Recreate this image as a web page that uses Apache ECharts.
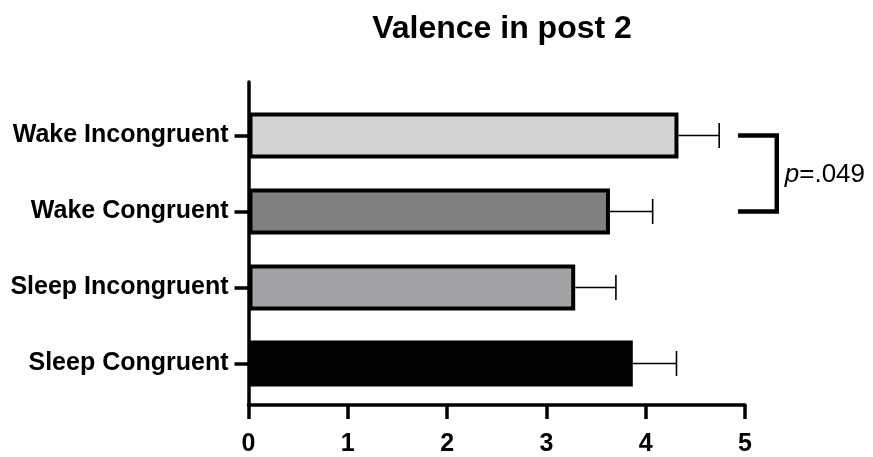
<!DOCTYPE html>
<html>
<head>
<meta charset="utf-8">
<script src="https://cdn.jsdelivr.net/npm/echarts@6/dist/echarts.min.js"></script>
<style>
  html, body { margin: 0; padding: 0; background: #fff; }
  #chart { width: 873px; height: 457px; }
</style>
</head>
<body>
<div id="chart"></div>
<script>
// Groups, listed bottom to top as the category axis draws them
const groups = ['Sleep Congruent', 'Sleep Incongruent', 'Wake Congruent', 'Wake Incongruent'];
const means = [3.87, 3.29, 3.64, 4.33];
const upperErr = [4.31, 3.70, 4.07, 4.74];
const fills = ['#000000', '#a2a2a5', '#808080', '#d3d3d3'];
const xTicks = [0, 1, 2, 3, 4, 5];

// Significance bracket between the two Wake groups
const bracketFrom = 'Wake Incongruent';
const bracketTo = 'Wake Congruent';
const bracketX = [4.93, 5.32];
const pText = '.049';

const FONT = "'Liberation Sans', Arial, Helvetica, sans-serif";

const chart = echarts.init(document.getElementById('chart'), null, { renderer: 'canvas' });

const iFrom = groups.indexOf(bracketFrom);
const iTo = groups.indexOf(bracketTo);

const option = {
  animation: false,
  backgroundColor: '#ffffff',
  title: {
    text: 'Valence in post 2',
    left: 497,
    textAlign: 'center',
    top: 8,
    textStyle: { fontFamily: FONT, fontWeight: 'bold', fontSize: 32, color: '#000' }
  },
  grid: [
    // frame grid: carries the axis lines and the value ticks
    { left: 248.5, right: 128, top: 82, bottom: 44, containLabel: false },
    // bar grid: the four bands
    { left: 248.5, right: 128, top: 97.5, bottom: 55.5, containLabel: false }
  ],
  xAxis: [
    {
      gridIndex: 0,
      type: 'value',
      min: xTicks[0],
      max: xTicks[xTicks.length - 1],
      interval: 1,
      splitLine: { show: false },
      axisLine: { show: true, lineStyle: { color: '#000', width: 3.5 } },
      axisTick: { show: true, length: 14, lineStyle: { color: '#000', width: 3.5 } },
      axisLabel: {
        margin: 27,
        fontFamily: FONT, fontWeight: 'bold', fontSize: 25, color: '#000'
      }
    },
    {
      gridIndex: 1,
      type: 'value',
      min: xTicks[0],
      max: xTicks[xTicks.length - 1],
      show: false
    }
  ],
  yAxis: [
    {
      gridIndex: 0,
      type: 'category',
      data: [''],
      axisLine: { show: true, lineStyle: { color: '#000', width: 3.5 } },
      axisTick: { show: false },
      axisLabel: { show: false },
      splitLine: { show: false }
    },
    {
      gridIndex: 1,
      type: 'category',
      data: groups,
      axisLine: { show: false },
      axisTick: { show: true, alignWithLabel: true, length: 14, lineStyle: { color: '#000', width: 3.5 } },
      axisLabel: {
        margin: 20,
        fontFamily: FONT, fontWeight: 'bold', fontSize: 25, color: '#000'
      },
      splitLine: { show: false }
    }
  ],
  series: [
    {
      type: 'bar',
      xAxisIndex: 1,
      yAxisIndex: 1,
      barWidth: 46,
      data: means.map((v, i) => ({
        value: v,
        itemStyle: { color: fills[i], borderColor: '#000', borderWidth: 4 }
      })),
      silent: true
    },
    {
      type: 'custom',
      xAxisIndex: 1,
      yAxisIndex: 1,
      data: groups.map((g, i) => [i, means[i], upperErr[i]]),
      encode: { y: 0, x: [1, 2] },
      renderItem: function (params, api) {
        const idx = api.value(0);
        const p0 = api.coord([api.value(1), idx]);
        const p1 = api.coord([api.value(2), idx]);
        const half = 12.5;
        const style = { stroke: '#000', lineWidth: 1.6 };
        return {
          type: 'group',
          children: [
            { type: 'line', shape: { x1: p0[0], y1: p0[1], x2: p1[0], y2: p1[1] }, style: style },
            { type: 'line', shape: { x1: p1[0], y1: p1[1] - half, x2: p1[0], y2: p1[1] + half }, style: style }
          ]
        };
      },
      silent: true,
      z: 3
    },
    {
      type: 'line',
      xAxisIndex: 1,
      yAxisIndex: 1,
      data: [
        [bracketX[0], iFrom],
        [bracketX[1], iFrom],
        [bracketX[1], iTo],
        [bracketX[0], iTo]
      ],
      symbol: 'none',
      clip: false,
      silent: true,
      lineStyle: { color: '#000', width: 4.5, join: 'miter', cap: 'butt' }
    }
  ]
};

chart.setOption(option);

// p-value label beside the bracket, placed from the axis scales
const a = chart.convertToPixel({ gridIndex: 1 }, [bracketX[1], iFrom]);
const b = chart.convertToPixel({ gridIndex: 1 }, [bracketX[1], iTo]);
chart.setOption({
  graphic: [{
    type: 'text',
    x: a[0] + 8,
    y: (a[1] + b[1]) / 2 + 1,
    style: {
      text: '{i|p}{n|=' + pText + '}',
      verticalAlign: 'middle',
      align: 'left',
      rich: {
        i: { fontFamily: FONT, fontStyle: 'italic', fontSize: 26, fill: '#000' },
        n: { fontFamily: FONT, fontSize: 26, fill: '#000' }
      }
    }
  }]
});
</script>
</body>
</html>
